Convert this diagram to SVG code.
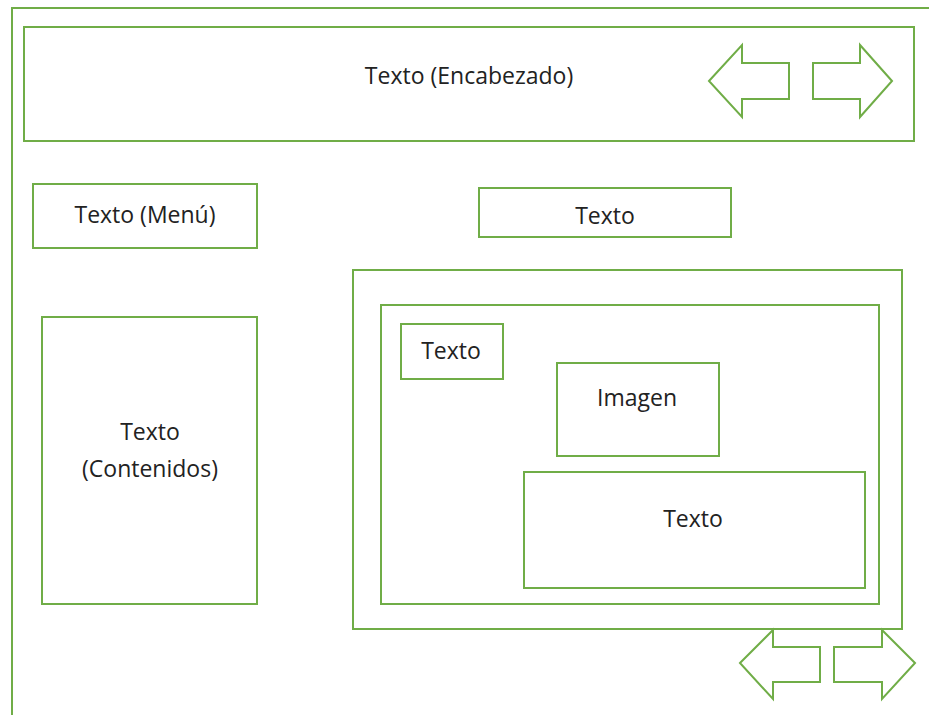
<svg xmlns="http://www.w3.org/2000/svg" width="929" height="715" viewBox="0 0 929 715">
<style>
.b{fill:none;stroke:#70AD47;stroke-width:2}
.a{fill:#fff;stroke:#70AD47;stroke-width:2;stroke-linejoin:miter}
text{font-family:"Open Sans","Liberation Sans",sans-serif;font-size:23px;fill:#222;text-anchor:middle}
</style>
<rect width="929" height="715" fill="#fff"/>
<g id="frame"><path class="b" d="M929 8H12V715"/></g>
<g id="header"><rect class="b" x="24" y="27" width="890" height="114"/><text x="469" y="84">Texto (Encabezado)</text></g>
<g id="nav-top">
<path class="a" d="M709 81L742 45V63H789V99H742V117Z"/>
<path class="a" d="M892 81L860 45V63H813V99H860V117Z"/>
</g>
<g id="menu"><rect class="b" x="33" y="184" width="224" height="64"/><text x="145" y="223">Texto (Menú)</text></g>
<g id="texto-top"><rect class="b" x="479" y="188" width="252" height="49"/><text x="605" y="224">Texto</text></g>
<g id="contenidos"><rect class="b" x="42" y="317" width="215" height="287"/><text x="150" y="440">Texto</text><text x="150" y="477">(Contenidos)</text></g>
<g id="panel-outer"><rect class="b" x="353" y="270" width="549" height="359"/></g>
<g id="panel-inner"><rect class="b" x="381" y="305" width="498" height="299"/></g>
<g id="texto-small"><rect class="b" x="401" y="324" width="102" height="55"/><text x="451" y="359">Texto</text></g>
<g id="imagen"><rect class="b" x="557" y="363" width="162" height="93"/><text x="637" y="406">Imagen</text></g>
<g id="texto-big"><rect class="b" x="524" y="472" width="341" height="116"/><text x="693" y="527">Texto</text></g>
<g id="nav-bottom">
<path class="a" d="M740 663L773 630V647H820V682H773V699Z"/>
<path class="a" d="M915 663L882 630V647H834V682H882V699Z"/>
</g>
</svg>
